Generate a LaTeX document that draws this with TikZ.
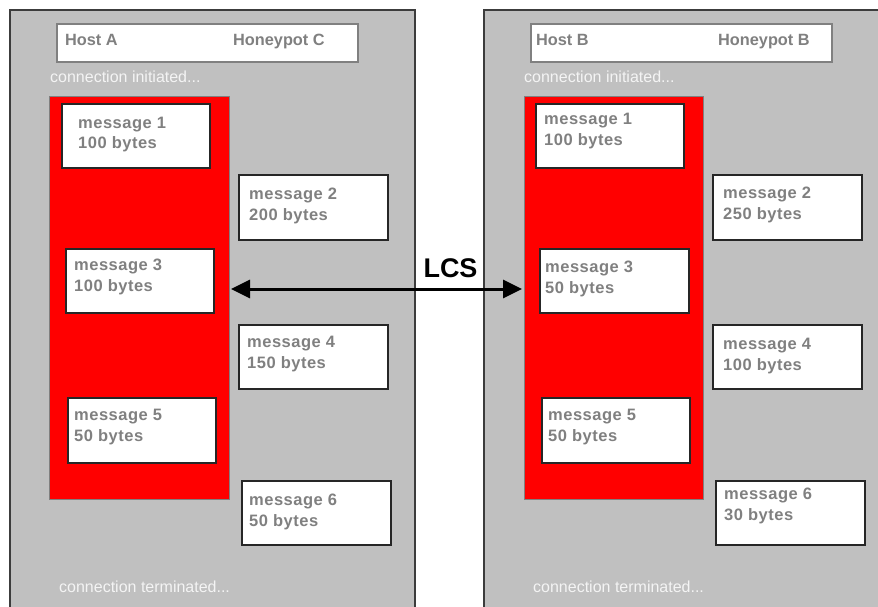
\documentclass[tikz,border=0pt]{standalone}
\usepackage{fontspec}
\setmainfont{Liberation Sans}
\newfontfamily\msgfont{Liberation Sans}[LetterSpace=3]
\usetikzlibrary{fit,arrows.meta}
\definecolor{panelgray}{HTML}{C0C0C0}
\definecolor{textgray}{HTML}{808080}
\definecolor{panelline}{HTML}{3C3C3C}
\definecolor{notegray}{HTML}{F4F4F4}
\tikzset{
  panel/.style={draw=panelline, fill=panelgray, line width=1.5pt, inner sep=0pt},
  header/.style={draw=textgray, fill=white, line width=1.8pt, inner sep=0pt},
  session/.style={draw=textgray, fill=red, line width=1pt, inner sep=0pt},
  msgbox/.style={draw=black!85, fill=white, line width=1.6pt, inner sep=0pt},
  msgtext/.style={text=textgray, font=\msgfont\fontsize{16.5}{20}\selectfont\bfseries, anchor=base west, inner sep=0pt},
  headtext/.style={text=textgray, font=\fontsize{16.3}{20}\selectfont\bfseries, anchor=base west, inner sep=0pt},
  note/.style={text=notegray, font=\fontsize{16}{20}\selectfont, anchor=base west, inner sep=0pt},
  lcs/.style={font=\fontsize{27}{30}\selectfont\bfseries, anchor=base, inner sep=0pt},
  link/.style={line width=3pt, {Triangle[length=19pt,width=18pt]}-{Triangle[length=19pt,width=18pt]}}
}
% message box: name, corners, text origin, two lines
\newcommand\msg[9]{%
  \node[msgbox, fit={(#2,#3)(#4,#5)}] (#1) {};
  \node[msgtext] (#1-a) at (#6,#7) {#8};
  \node[msgtext] (#1-b) at (#6,#7+20.5) {#9};
}
\begin{document}
\begin{tikzpicture}[x=1pt, y=-1pt]
  \useasboundingbox (0,0) rectangle (878,607);
  \clip (0,0) rectangle (878,607);

  % left host
  \node[panel, fit={(10,10)(415,630)}] (panelA) {};
  \node[header, fit={(57,24)(358,62)}] (headA) {};
  \node[headtext] (hostA) at (65,46) {Host A};
  \node[headtext] (potC) at (233,46) {Honeypot C};
  \node[note] (initA) at (50,83) {connection initiated...};
  \node[session, fit={(49,97)(229,499)}] (redA) {};
  \msg{a1}{62}{104}{210}{168}{78}{128.5}{message 1}{100 bytes}
  \msg{a2}{239}{175}{388}{240}{249}{199.5}{message 2}{200 bytes}
  \msg{a3}{66}{249}{214}{313}{74}{270.5}{message 3}{100 bytes}
  \msg{a4}{239}{325}{388}{389}{247}{347.5}{message 4}{150 bytes}
  \msg{a5}{68}{398}{216}{463}{74}{420.5}{message 5}{50 bytes}
  \msg{a6}{242}{481}{391}{545}{249}{505.5}{message 6}{50 bytes}
  \node[note] (endA) at (59,592) {connection terminated...};

  % right host
  \node[panel, fit={(484,10)(900,630)}] (panelB) {};
  \node[header, fit={(531,24)(832,62)}] (headB) {};
  \node[headtext] (hostB) at (536,46) {Host B};
  \node[headtext] (potB) at (718,46) {Honeypot B};
  \node[note] (initB) at (524,83) {connection initiated...};
  \node[session, fit={(524,97)(703,499)}] (redB) {};
  \msg{b1}{536}{104}{684}{168}{544}{125}{message 1}{100 bytes}
  \msg{b2}{713}{175}{862}{240}{723}{198.5}{message 2}{250 bytes}
  \msg{b3}{540}{249}{689}{313}{545}{272.5}{message 3}{50 bytes}
  \msg{b4}{713}{325}{862}{389}{723}{349.5}{message 4}{100 bytes}
  \msg{b5}{542}{398}{690}{463}{548}{420.5}{message 5}{50 bytes}
  \msg{b6}{716}{481}{865}{545}{724}{499.5}{message 6}{30 bytes}
  \node[note] (endB) at (533,592) {connection terminated...};

  % longest common subsequence link
  \coordinate (lcsL) at (231,289);
  \coordinate (lcsR) at (522,289);
  \draw[link] (lcsL) -- (lcsR);
  \node[lcs] (lcs) at (450.5,277) {LCS};
\end{tikzpicture}
\end{document}
